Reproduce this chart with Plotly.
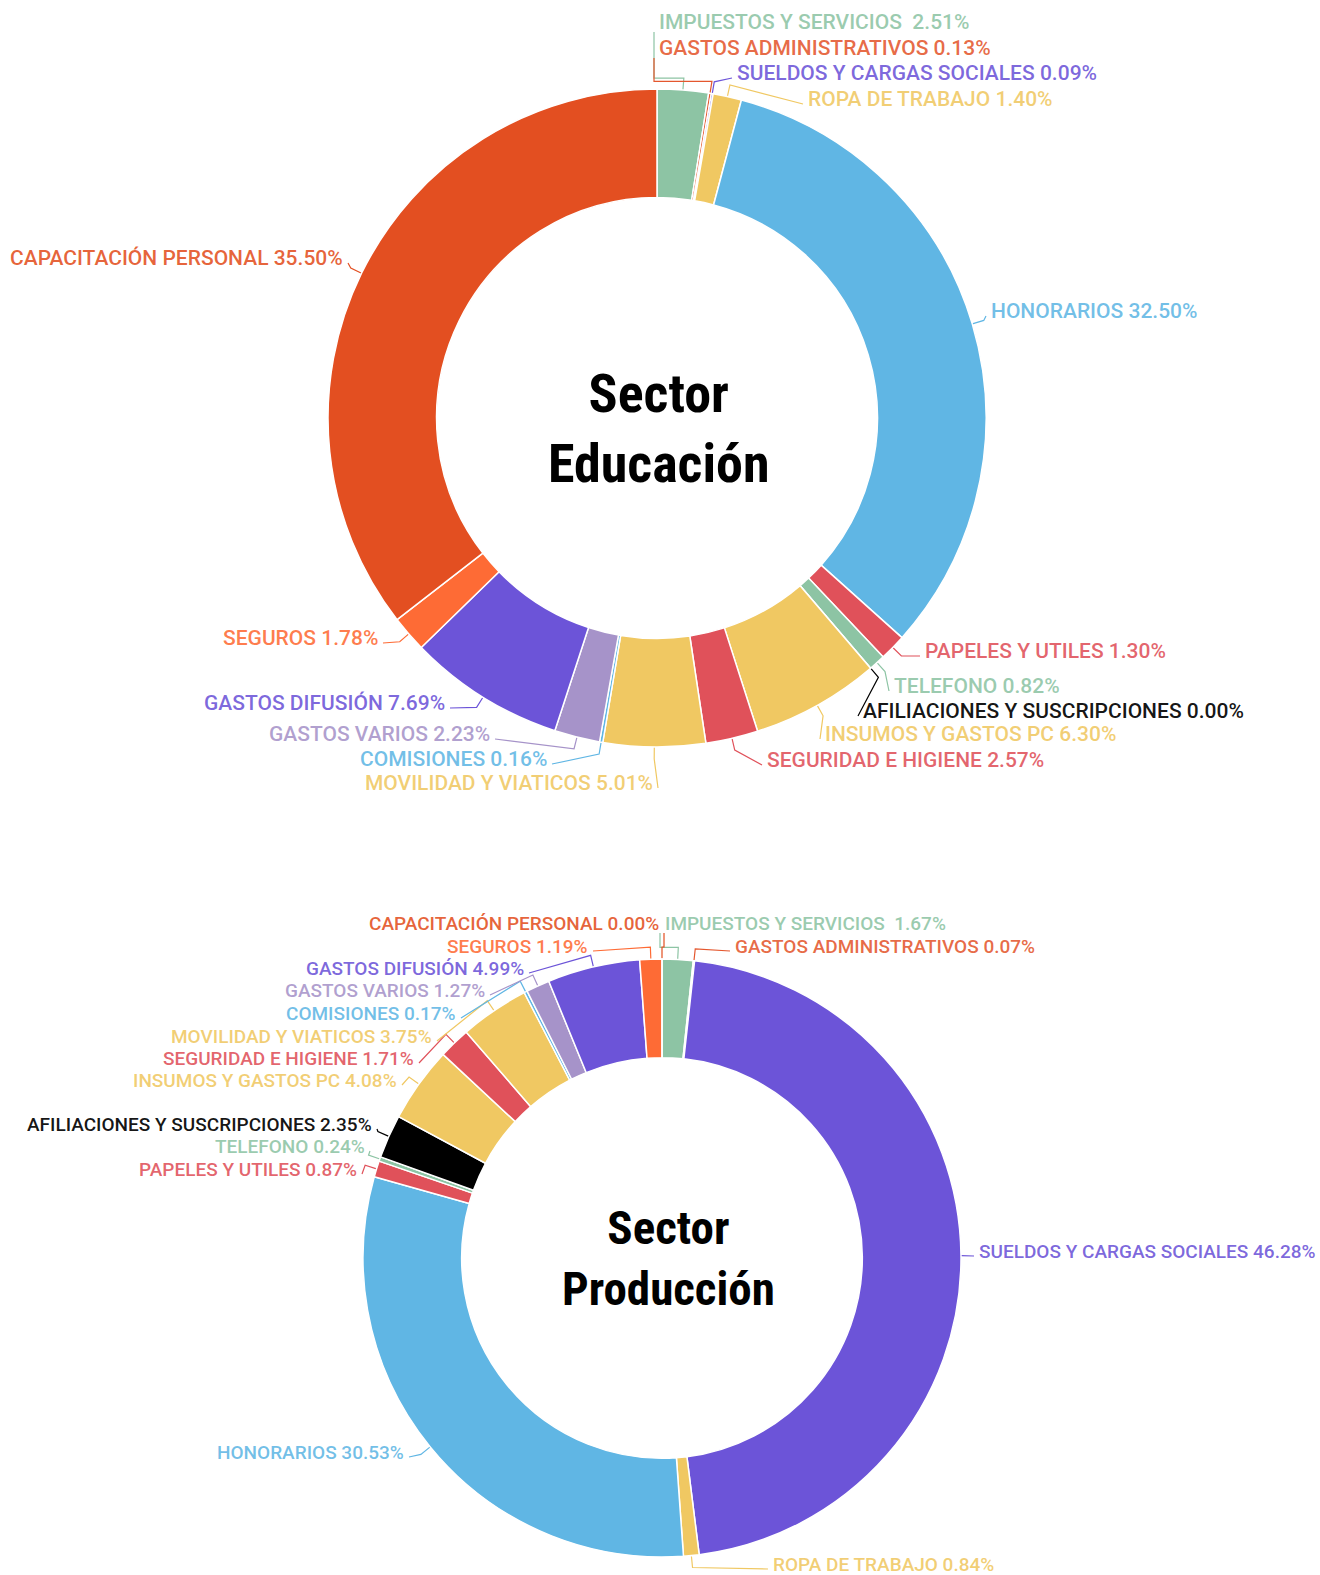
import math
import plotly.graph_objects as go

# ---------------- data ----------------
categories = [
    "IMPUESTOS Y SERVICIOS\u00a0", "GASTOS ADMINISTRATIVOS", "SUELDOS Y CARGAS SOCIALES",
    "ROPA DE TRABAJO", "HONORARIOS", "PAPELES Y UTILES", "TELEFONO",
    "AFILIACIONES Y SUSCRIPCIONES", "INSUMOS Y GASTOS PC", "SEGURIDAD E HIGIENE",
    "MOVILIDAD Y VIATICOS", "COMISIONES", "GASTOS VARIOS", "GASTOS DIFUSIÓN",
    "SEGUROS", "CAPACITACIÓN PERSONAL",
]
educacion = [2.51, 0.13, 0.09, 1.40, 32.50, 1.30, 0.82, 0.00, 6.30, 2.57, 5.01, 0.16, 2.23, 7.69, 1.78, 35.50]
produccion = [1.67, 0.07, 46.28, 0.84, 30.53, 0.87, 0.24, 2.35, 4.08, 1.71, 3.75, 0.17, 1.27, 4.99, 1.19, 0.00]

colors = [
    "#8dc4a4", "#e4572e", "#6c54d8", "#f0c862", "#60b6e4", "#e0515a", "#8dc4a4", "#000000",
    "#f0c862", "#e0515a", "#f0c862", "#60b6e4", "#a693c9", "#6c54d8", "#fe6b35", "#e34f21",
]

# ---------------- layout constants ----------------
W, H = 1320, 1575
HOLE = 0.67
edu_geom = dict(cx=657, cy=418, R=329)
prod_geom = dict(cx=662, cy=1258, R=299)

# label anchor positions (pixels): x, y, text anchor, leader style
edu_label_pos = [
    (657, 22, "left", "v"), (657, 48, "left", "v"), (735, 73, "left", "h"), (806, 99, "left", "h"),
    (989, 311, "left", "h"), (923, 651, "left", "h"), (892, 686, "left", "h"), (861, 711, "left", "h"),
    (823, 734, "left", "h"), (765, 760, "left", "h"), (655, 783, "right", "h"), (549, 759, "right", "h"),
    (492, 734, "right", "h"), (447, 703, "right", "h"), (380, 638, "right", "h"), (345, 258, "right", "h"),
]
prod_label_pos = [
    (663, 923, "left", "v"), (733, 946, "left", "h"), (977, 1251, "left", "h"), (771, 1564, "left", "h"),
    (406, 1452, "right", "h"), (359, 1169, "right", "h"), (367, 1146, "right", "h"), (374, 1124, "right", "h"),
    (399, 1080, "right", "h"), (416, 1058, "right", "h"), (434, 1036, "right", "h"), (458, 1013, "right", "h"),
    (487, 990, "right", "h"), (526, 968, "right", "h"), (590, 946, "right", "h"), (661, 923, "right", "v"),
]

LABEL_FONT = "Roboto"
EDU_LABEL_SIZE = 21
PROD_LABEL_SIZE = 19
CENTER_FONT = "'Noto Sans ExtraCondensed', 'Noto Sans Condensed', 'Roboto Condensed', Roboto, sans-serif"
EDU_CENTER_SIZE = 54
PROD_CENTER_SIZE = 47


def hex_rgba(h, a):
    h = h.lstrip("#")
    r, g, b = int(h[0:2], 16), int(h[2:4], 16), int(h[4:6], 16)
    return f"rgba({r},{g},{b},{a})"


fig = go.Figure()


def domain_of(g):
    return dict(
        x=[(g["cx"] - g["R"]) / W, (g["cx"] + g["R"]) / W],
        y=[(H - g["cy"] - g["R"]) / H, (H - g["cy"] + g["R"]) / H],
    )


annotations = []


def add_donut(values, g, label_pos, label_size, title, title_pos, title_size):
    fig.add_trace(go.Pie(
        labels=categories, values=values, hole=HOLE, sort=False, direction="clockwise",
        rotation=0, textinfo="none", hoverinfo="label+percent", showlegend=False,
        marker=dict(colors=colors, line=dict(color="white", width=1.5)),
        domain=domain_of(g),
    ))
    total = sum(values)
    cum = 0.0
    for cat, v, col, (lx, ly, anc, sty) in zip(categories, values, colors, label_pos):
        th = 2 * math.pi * (cum + v / 2) / total
        cum += v
        sx = g["cx"] + g["R"] * math.sin(th)
        sy = g["cy"] - g["R"] * math.cos(th)
        ex = g["cx"] + (g["R"] + 12) * math.sin(th)
        ey = g["cy"] - (g["R"] + 12) * math.cos(th)
        xa = lx - 3 if anc == "left" else lx + 3
        if sty == "h":
            xs, ys = [sx, ex, xa], [sy, ey, ly + 5]
        else:
            xs, ys = [sx, ex, xa, xa], [sy, ey, ey, ly + 10]
        fig.add_trace(go.Scatter(
            x=xs, y=ys, mode="lines", line=dict(color=col, width=1.2),
            hoverinfo="skip", showlegend=False, xaxis="x", yaxis="y",
        ))
        annotations.append(dict(
            x=lx, y=ly, xref="x", yref="y", xanchor=anc, yanchor="middle", showarrow=False,
            text=f"{cat} {v:.2f}%",
            font=dict(family=LABEL_FONT, size=label_size, weight=500,
                      color=hex_rgba(col, 0.88 if col != "#000000" else 0.92)),
        ))
    annotations.append(dict(
        x=title_pos[0], y=title_pos[1], xref="x", yref="y", xanchor="center", yanchor="middle",
        showarrow=False, align="center",
        text="<b>" + "<br>".join(title) + "</b>",
        font=dict(family=CENTER_FONT, size=title_size, color="#000000"),
    ))


add_donut(educacion, edu_geom, edu_label_pos, EDU_LABEL_SIZE, ["Sector", "Educación"], (658, 428), EDU_CENTER_SIZE)
add_donut(produccion, prod_geom, prod_label_pos, PROD_LABEL_SIZE, ["Sector", "Producción"], (668, 1258), PROD_CENTER_SIZE)

fig.update_layout(
    width=W, height=H, margin=dict(l=0, r=0, t=0, b=0),
    paper_bgcolor="white", plot_bgcolor="rgba(0,0,0,0)",
    xaxis=dict(range=[0, W], visible=False, fixedrange=True, domain=[0, 1]),
    yaxis=dict(range=[H, 0], visible=False, fixedrange=True, domain=[0, 1]),
    annotations=annotations,
)

fig.write_html("out.html", config={"displayModeBar": False},
               post_script="document.body.style.margin='0';")
